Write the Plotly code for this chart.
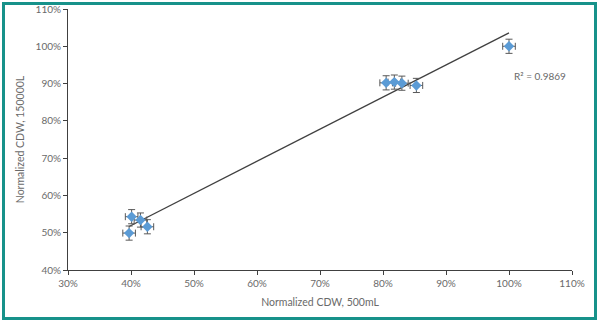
import numpy as np
import plotly.graph_objects as go

# Data (normalized CDW, %)
x_500ml = [40.1, 41.5, 42.6, 39.7, 80.5, 81.8, 83.0, 85.3, 100.0]
y_150000l = [54.3, 53.4, 51.6, 49.9, 90.2, 90.4, 90.1, 89.5, 100.0]
x_err = [1.0] * 9
y_err = [1.9] * 9
r2_text = "R² = 0.9869"

x_ticks = [30, 40, 50, 60, 70, 80, 90, 100, 110]
y_ticks = [40, 50, 60, 70, 80, 90, 100, 110]

W, H = 600, 324
ml, mr, mt, mb = 68, 28, 9, 54

fig = go.Figure()

# linear trendline over data range
coef = np.polyfit(x_500ml, y_150000l, 1)
tx = np.array([min(x_500ml), max(x_500ml)])
ty = np.polyval(coef, tx)
fig.add_trace(go.Scatter(x=tx, y=ty, mode="lines",
                         line=dict(color="#404040", width=1.3),
                         hoverinfo="skip", showlegend=False))

fig.add_trace(go.Scatter(
    x=x_500ml, y=y_150000l, mode="markers",
    marker=dict(symbol="diamond", size=8, color="#5b9bd5"),
    error_x=dict(type="data", array=x_err, color="#595959", thickness=1, width=3.5),
    error_y=dict(type="data", array=y_err, color="#595959", thickness=1, width=3.5),
    showlegend=False))

font_fam = "Lato, Open Sans, sans-serif"
tick_col = "#6a6a6a"
fig.update_layout(
    width=W, height=H,
    margin=dict(l=ml, r=mr, t=mt, b=mb, autoexpand=False),
    paper_bgcolor="white", plot_bgcolor="white",
    font=dict(family=font_fam, size=10, color=tick_col),
    xaxis=dict(range=[30, 110], tickvals=x_ticks,
               ticktext=[f"{v}%" for v in x_ticks],
               showgrid=False, zeroline=False, automargin=False,
               showline=True, linecolor="#404040", linewidth=1,
               ticks="outside", ticklen=4, tickcolor="#404040",
               title=dict(text="Normalized CDW, 500mL", standoff=10,
                          font=dict(size=10.5, color=tick_col))),
    yaxis=dict(range=[40, 110], tickvals=y_ticks,
               ticktext=[f"{v}%" for v in y_ticks],
               showgrid=False, zeroline=False, automargin=False,
               showline=True, linecolor="#404040", linewidth=1,
               ticks="outside", ticklen=4, tickcolor="#404040",
               title=dict(text="Normalized CDW, 150000L", standoff=8,
                          font=dict(size=10.5, color=tick_col))),
)

fig.add_annotation(x=110, y=92, xref="x", yref="y", text=r2_text,
                   showarrow=False, xanchor="right", xshift=-4,
                   font=dict(size=10, color=tick_col))

# teal frame around the whole image
pw = W - ml - mr
ph = H - mt - mb
def px_x(p):
    return (p - ml) / pw
def px_y(p):
    return 1 - (p - mt) / ph
fig.add_shape(type="rect", xref="paper", yref="paper",
              x0=px_x(3.5), x1=px_x(595.5), y0=px_y(3.5), y1=px_y(318.5),
              line=dict(color="#17928a", width=3), layer="above")

fig.write_html("out.html")
